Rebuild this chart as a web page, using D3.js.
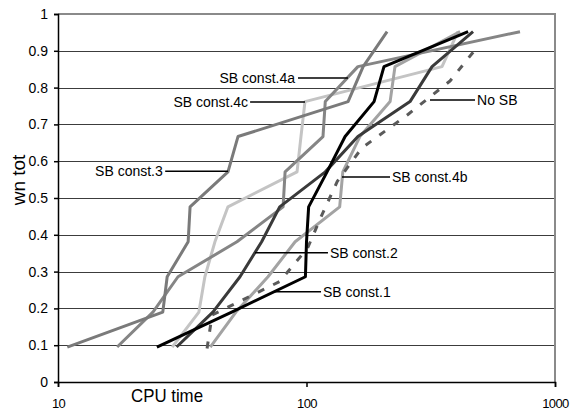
<!DOCTYPE html>
<html><head><meta charset="utf-8">
<script src="https://cdn.jsdelivr.net/npm/d3@7/dist/d3.min.js"></script>
<style>
body{margin:0;background:#fff;}
svg{display:block;font-family:"Liberation Sans",Arial,sans-serif;}
</style>
</head><body>
<svg id="chart" width="572" height="414"></svg>
<script>
// ---- data ----
const yLevels     = [0.095, 0.190, 0.286, 0.381, 0.476, 0.571, 0.667, 0.762, 0.857, 0.952];
const yLevelsNoSB = [0.091, 0.182, 0.273, 0.364, 0.455, 0.545, 0.636, 0.727, 0.818, 0.909];

const sbConst1  = [25, 50, 99, 100, 102, 121, 143, 187, 205, 447];
const sbConst2  = [30, 42, 54, 66, 78, 119, 161, 261, 320, 468];
const sbConst3  = [10.9, 26.4, 27.5, 33.4, 34, 48.3, 53, 147, 169, 211];
const sbConst4a = [17.3, 24.1, 30.4, 52.5, 80.5, 82, 116.5, 119, 161, 723];
const sbConst4b = [41, 52, 70, 90, 136, 140, 164, 217, 227, 415];
const sbConst4c = [28.8, 36.9, 39, 42.8, 48.3, 91.6, 95, 98.6, 351, 407];
const noSB      = [39.8, 41.7, 78, 101, 115.5, 133, 167, 256, 378, 485];

const seriesNames = ["SB const.3","SB const.4a","SB const.4b","SB const.4c","No SB","SB const.2","SB const.1"];
const yTicks = [0,0.1,0.2,0.3,0.4,0.5,0.6,0.7,0.8,0.9,1];
const xTicks = [10,100,1000];
const xTitle = "CPU time";
const yTitle = "wn tot";

// ---- styles / layout ----
const series = [
  {name:"SB const.4c", x:sbConst4c, y:yLevels,     color:"#c4c4c4", w:3},
  {name:"SB const.4b", x:sbConst4b, y:yLevels,     color:"#a3a3a3", w:3},
  {name:"SB const.4a", x:sbConst4a, y:yLevels,     color:"#858585", w:3},
  {name:"SB const.3",  x:sbConst3,  y:yLevels,     color:"#7a7a7a", w:3},
  {name:"No SB",       x:noSB,      y:yLevelsNoSB, color:"#5a5a5a", w:3, dash:"7,10"},
  {name:"SB const.2",  x:sbConst2,  y:yLevels,     color:"#3a3a3a", w:3},
  {name:"SB const.1",  x:sbConst1,  y:yLevels,     color:"#000000", w:3}
];
// annotation: y (data), leader from x1 to x2 (data), text at tx, anchor
const notes = [
  {t:"SB const.4a", y:0.826, x1:92.4, x2:146.9, tx:89.9, a:"end"},
  {t:"SB const.4c", y:0.761, x1:59.3, x2:98.6,  tx:58.2, a:"end"},
  {t:"SB const.3",  y:0.573, x1:27.0, x2:48.3,  tx:26.4, a:"end"},
  {t:"SB const.4b", y:0.557, x1:138.9,x2:216.8, tx:220.9,a:"start"},
  {t:"SB const.2",  y:0.351, x1:62.1, x2:122.0, tx:124.3,a:"start"},
  {t:"SB const.1",  y:0.245, x1:74.7, x2:114.4, tx:116.5,a:"start"},
  {t:"No SB",       y:0.766, x1:314,  x2:476.5, tx:485.5,a:"start"}
];

const L=58, R=555, T=14, B=382;
const svg = d3.select("#chart");
const x = d3.scaleLog().domain([10,1000]).range([L,R]);
const y = d3.scaleLinear().domain([0,1]).range([B,T]);

// gridlines
svg.append("g").selectAll("line").data(yTicks.filter(d=>d>0 && d<1)).join("line")
  .attr("x1",L).attr("x2",R).attr("y1",d=>Math.round(y(d))+0.5).attr("y2",d=>Math.round(y(d))+0.5)
  .attr("stroke","#3c3c3c").attr("stroke-width",1);
// plot border top/right
svg.append("path").attr("d",`M${L},${T}H${R}V${B}`).attr("fill","none")
  .attr("stroke","#8a8a8a").attr("stroke-width",2);

// series
const line = d3.line().x(d=>x(d[0])).y(d=>y(d[1]));
series.forEach(s=>{
  svg.append("path").datum(s.x.map((v,i)=>[v,s.y[i]]))
    .attr("d",line).attr("fill","none").attr("stroke",s.color)
    .attr("stroke-width",s.w).attr("stroke-linejoin","round")
    .attr("stroke-dasharray",s.dash||null);
});

// axes
const ya = svg.append("g").attr("transform",`translate(${L},0)`)
  .call(d3.axisLeft(y).tickValues(yTicks).tickSize(4).tickPadding(6)
    .tickFormat(d=> d===0?"0":d===1?"1":d3.format(".1f")(d)));
ya.selectAll("text").attr("font-size",14).attr("fill","#000").attr("font-family","Liberation Sans, Arial");
ya.selectAll("line,path").attr("stroke","#000").attr("stroke-width",1.5);

const xa = svg.append("g").attr("transform",`translate(0,${B})`)
  .call(d3.axisBottom(x).tickValues(xTicks).tickSize(5).tickPadding(12).tickFormat(d3.format("d")));
xa.selectAll("text").attr("font-size",13).attr("fill","#000").attr("letter-spacing",-0.6).attr("font-family","Liberation Sans, Arial");
xa.selectAll("line,path").attr("stroke","#000").attr("stroke-width",1.5);

// titles
svg.append("text").attr("x",167).attr("y",402).attr("text-anchor","middle")
  .attr("font-size",19).attr("textLength",72).attr("lengthAdjust","spacingAndGlyphs").text(xTitle);
svg.append("text").attr("transform","translate(25,180) rotate(-90)").attr("text-anchor","middle")
  .attr("font-size",19).text(yTitle);

// annotations
const ng = svg.append("g");
notes.forEach(n=>{
  ng.append("line").attr("x1",x(n.x1)).attr("x2",x(n.x2)).attr("y1",y(n.y)).attr("y2",y(n.y))
    .attr("stroke","#000").attr("stroke-width",1.5);
  ng.append("text").attr("x",x(n.tx)).attr("y",y(n.y)).attr("dy","0.36em")
    .attr("text-anchor",n.a).attr("font-size",14).attr("fill","#000").text(n.t);
});
</script>
</body></html>
